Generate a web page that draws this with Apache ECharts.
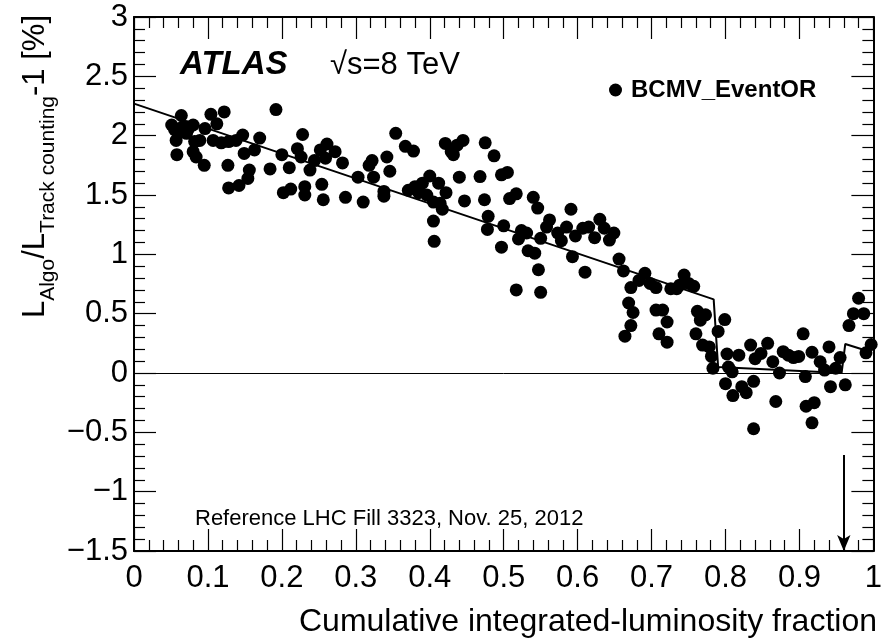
<!DOCTYPE html>
<html>
<head>
<meta charset="utf-8">
<script src="https://cdn.jsdelivr.net/npm/echarts@6/dist/echarts.min.js"></script>
<style>
  html, body { margin: 0; padding: 0; background: #fff; }
  #chart { width: 885px; height: 644px; }
</style>
</head>
<body>
<div id="chart"></div>
<script>
// measured points, BCMV_EventOR
var fraction = [
  0.051, 0.055, 0.060, 0.064, 0.066, 0.071, 0.073, 0.080, 0.057, 0.058,
  0.071, 0.082, 0.089, 0.080, 0.084, 0.095, 0.096, 0.104, 0.112, 0.122,
  0.107, 0.118, 0.128, 0.127, 0.128, 0.142, 0.147, 0.138, 0.149, 0.156,
  0.154, 0.163, 0.170, 0.184, 0.192, 0.200, 0.210, 0.221, 0.228, 0.226,
  0.202, 0.212, 0.231, 0.231, 0.238, 0.244, 0.252, 0.261, 0.259, 0.254,
  0.256, 0.272, 0.282, 0.286, 0.310, 0.303, 0.318, 0.322, 0.324, 0.342,
  0.346, 0.338, 0.338, 0.354, 0.367, 0.378, 0.371, 0.380, 0.390, 0.385,
  0.396, 0.400, 0.412, 0.405, 0.414, 0.417, 0.422, 0.405, 0.406, 0.421,
  0.429, 0.432, 0.437, 0.445, 0.440, 0.447, 0.468, 0.474, 0.475, 0.487,
  0.479, 0.478, 0.497, 0.505, 0.508, 0.517, 0.540, 0.546, 0.500, 0.497,
  0.524, 0.531, 0.520, 0.533, 0.542, 0.547, 0.517, 0.550, 0.550, 0.562,
  0.558, 0.573, 0.578, 0.585, 0.591, 0.593, 0.597, 0.610, 0.607, 0.615,
  0.623, 0.630, 0.636, 0.649, 0.643, 0.656, 0.662, 0.672, 0.669, 0.675,
  0.672, 0.664, 0.683, 0.691, 0.698, 0.706, 0.706, 0.715, 0.721, 0.710,
  0.721, 0.726, 0.734, 0.738, 0.744, 0.750, 0.757, 0.762, 0.766, 0.773,
  0.760, 0.769, 0.778, 0.781, 0.783, 0.799, 0.790, 0.802, 0.804, 0.809,
  0.800, 0.810, 0.818, 0.822, 0.828, 0.838, 0.838, 0.834, 0.840, 0.848,
  0.857, 0.864, 0.873, 0.868, 0.878, 0.885, 0.892, 0.899, 0.905, 0.908,
  0.917, 0.909, 0.920, 0.917, 0.928, 0.934, 0.940, 0.942, 0.949, 0.955,
  0.962, 0.967, 0.973, 0.980, 0.987, 0.990, 0.997
];
var ratio = [
  2.09, 2.05, 2.02, 2.17, 2.075, 2.075, 2.05, 2.09, 1.96, 1.84,
  2.02, 1.95, 1.96, 1.865, 1.82, 1.75, 2.06, 2.18, 2.10, 2.20,
  1.96, 1.94, 1.95, 1.75, 1.56, 1.58, 2.005, 1.96, 1.85, 1.71,
  1.64, 1.88, 1.98, 1.72, 2.22, 1.84, 1.73, 1.89, 2.01, 1.82,
  1.52, 1.55, 1.57, 1.50, 1.71, 1.79, 1.88, 1.93, 1.81, 1.59,
  1.46, 1.865, 1.77, 1.48, 1.44, 1.65, 1.75, 1.79, 1.65, 1.82,
  1.70, 1.53, 1.49, 2.02, 1.91, 1.87, 1.54, 1.57, 1.60, 1.52,
  1.50, 1.66, 1.60, 1.44, 1.43, 1.38, 1.52, 1.28, 1.11, 1.935,
  1.865, 1.84, 1.92, 1.96, 1.65, 1.45, 1.655, 1.46, 1.94, 1.83,
  1.32, 1.21, 1.67, 1.69, 1.47, 1.51, 1.48, 1.39, 1.24, 1.06,
  1.20, 1.18, 1.13, 1.03, 1.01, 0.87, 0.70, 0.68, 1.135, 1.29,
  1.23, 1.18, 1.115, 1.23, 1.38, 0.98, 1.155, 0.85, 1.22, 1.23,
  1.14, 1.295, 1.22, 1.18, 1.12, 0.96, 0.86, 0.72, 0.59, 0.51,
  0.40, 0.31, 0.78, 0.84, 0.755, 0.72, 0.53, 0.53, 0.43, 0.33,
  0.26, 0.71, 0.71, 0.74, 0.825, 0.755, 0.73, 0.52, 0.445, 0.49,
  0.33, 0.235, 0.22, 0.14, 0.04, 0.45, 0.35, 0.16, 0.05, 0.01,
  -0.09, -0.19, 0.15, -0.115, -0.166, -0.07, -0.47, 0.235, 0.12, 0.165,
  0.25, 0.095, 0.0, -0.24, 0.18, 0.15, 0.13, 0.14, 0.33, -0.03,
  0.175, -0.28, -0.25, -0.42, 0.095, 0.025, 0.22, -0.115, 0.04, 0.13,
  -0.10, 0.40, 0.50, 0.63, 0.50, 0.17, 0.24
];
// fitted curve
var fitX = [0, 0.784, 0.790, 0.957, 0.962, 0.990, 1.0];
var fitY = [2.27, 0.62, 0.05, 0.0, 0.245, 0.19, 0.25];
// arrow marking the reference point
var arrowX = 0.96;
var arrowTop = -0.69;

var FONT = "'Liberation Sans', Arial, Helvetica, sans-serif";

var points = fraction.map(function (x, i) { return [x, ratio[i]]; });
var fit = fitX.map(function (x, i) { return [x, fitY[i]]; });

var myChart = echarts.init(document.getElementById("chart"));

function frameAxis(extra) {
  var base = {
    axisLine: { show: true, onZero: false, lineStyle: { color: "#000", width: 2 } },
    axisTick: { show: true, inside: true, length: 22, lineStyle: { color: "#000", width: 1.2 } },
    minorTick: { show: true, splitNumber: 5, length: 11, lineStyle: { color: "#000", width: 1.2 } },
    splitLine: { show: false },
    axisLabel: { show: false }
  };
  return Object.assign(base, extra);
}

myChart.setOption({
  backgroundColor: "#fff",
  animation: false,
  grid: { left: 134, right: 8, top: 17, bottom: 93 },
  xAxis: [
    frameAxis({
      type: "value", min: 0, max: 1, interval: 0.1, position: "bottom",
      axisLabel: { show: true, color: "#000", fontSize: 31, fontFamily: FONT, margin: 12 }
    }),
    frameAxis({ type: "value", min: 0, max: 1, interval: 0.1, position: "top" })
  ],
  yAxis: [
    frameAxis({
      type: "value", min: -1.5, max: 3, interval: 0.5, position: "left",
      axisLabel: {
        show: true, color: "#000", fontSize: 31, fontFamily: FONT, margin: 6,
        formatter: function (v) { return String(v).replace("-", "\u2212"); }
      }
    }),
    frameAxis({ type: "value", min: -1.5, max: 3, interval: 0.5, position: "right" })
  ],
  legend: {
    left: 604, top: 73, icon: "circle", itemWidth: 13, itemHeight: 13,
    data: ["BCMV_EventOR"],
    textStyle: { color: "#000", fontSize: 24, fontWeight: "bold", fontFamily: FONT, padding: [0, 0, 0, 4] }
  },
  series: [
    {
      name: "fit",
      type: "line",
      data: fit,
      symbol: "none",
      lineStyle: { color: "#000", width: 2 },
      silent: true,
      markLine: {
        silent: true, symbol: "none", label: { show: false },
        lineStyle: { color: "#000", width: 1, type: "solid" },
        data: [{ yAxis: 0 }]
      }
    },
    {
      name: "BCMV_EventOR",
      type: "scatter",
      data: points,
      symbol: "circle",
      symbolSize: 13,
      itemStyle: { color: "#000", opacity: 1 },
      markLine: {
        silent: true, symbol: ["none", "arrow"], symbolSize: [10, 16],
        label: { show: false },
        lineStyle: { color: "#000", width: 2, type: "solid" },
        data: [[{ coord: [arrowX, arrowTop] }, { coord: [arrowX, -1.5] }]]
      }
    }
  ],
  graphic: [
    {
      type: "text", x: 36, y: 15, rotation: Math.PI / 2,
      style: {
        text: "{m|L}{s|Algo}{m|/L}{s|Track counting}{m|-1 [%]}",
        align: "right", verticalAlign: "middle", fill: "#000",
        rich: {
          m: { fontSize: 31, fontFamily: FONT, lineHeight: 32, verticalAlign: "top", fill: "#000" },
          s: { fontSize: 21, fontFamily: FONT, lineHeight: 22, verticalAlign: "top", padding: [18, 0, 0, 0], fill: "#000" }
        }
      }
    },
    {
      type: "text", x: 877, y: 622,
      style: { text: "Cumulative integrated-luminosity fraction", align: "right", verticalAlign: "middle",
               fontSize: 32, fontFamily: FONT, fill: "#000" }
    },
    {
      type: "text", x: 180, y: 65,
      style: { text: "ATLAS", fontSize: 33, fontWeight: "bold", fontStyle: "italic", fontFamily: FONT,
               verticalAlign: "middle", fill: "#000" }
    },
    {
      type: "text", x: 330, y: 65,
      style: { text: "\u221As=8 TeV", fontSize: 31, fontFamily: FONT, verticalAlign: "middle", fill: "#000" }
    },
    {
      type: "text", x: 195, y: 519,
      style: { text: "Reference LHC Fill 3323, Nov. 25, 2012", fontSize: 22, fontFamily: FONT,
               verticalAlign: "middle", fill: "#000" }
    }
  ]
});
</script>
</body>
</html>
